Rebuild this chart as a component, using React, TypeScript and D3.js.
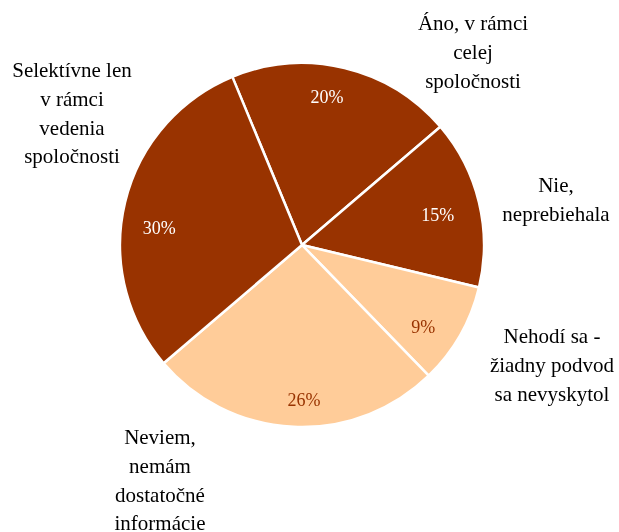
import React from "react";
import * as d3 from "d3";

const categories = [
  "Áno, v rámci celej spoločnosti",
  "Nie, neprebiehala",
  "Nehodí sa - žiadny podvod sa nevyskytol",
  "Neviem, nemám dostatočné informácie",
  "Selektívne len v rámci vedenia spoločnosti",
];
const values = [20, 15, 9, 26, 30];
const percentLabels = ["20%", "15%", "9%", "26%", "30%"];
const categoryLines = [
  ["Áno, v rámci", "celej", "spoločnosti"],
  ["Nie,", "neprebiehala"],
  ["Nehodí sa -", "žiadny podvod", "sa nevyskytol"],
  ["Neviem,", "nemám", "dostatočné", "informácie"],
  ["Selektívne len", "v rámci", "vedenia", "spoločnosti"],
];

// layout / style (kept apart from data)
const W = 619;
const H = 532;
const CX = 302;
const CY = 245;
const R = 182;
const START_DEG = -22.5;
const DARK = "#993300";
const LIGHT = "#FFCC99";
const sliceColors = [DARK, DARK, LIGHT, LIGHT, DARK];
const pctColors = ["#ffffff", "#ffffff", DARK, DARK, "#ffffff"];
const pctNudge = [
  [-10, -2.5],
  [-10, 5],
  [-9, 8],
  [9, 5],
  [3, 18],
];
// outer label anchor: center x, first baseline y
const outerPos = [
  [473, 30],
  [556, 192],
  [552, 343],
  [160, 444],
  [72, 77],
];
const LINE_H = 28.8;

export default function App() {
  const arcs = d3
    .pie<number>()
    .sort(null)
    .value((d) => d)
    .startAngle((START_DEG * Math.PI) / 180)
    .endAngle(((START_DEG + 360) * Math.PI) / 180)(values);
  const arc = d3.arc<d3.PieArcDatum<number>>().innerRadius(0).outerRadius(R);
  const labelArc = d3
    .arc<d3.PieArcDatum<number>>()
    .innerRadius(150)
    .outerRadius(150);

  return (
    <svg width={W} height={H} style={{ position: "fixed", left: 0, top: 0 }}>
      <g transform={`translate(${CX},${CY})`}>
        {arcs.map((a, i) => (
          <path
            key={categories[i]}
            d={arc(a) || ""}
            fill={sliceColors[i]}
            stroke="#ffffff"
            strokeWidth={2.5}
            strokeLinejoin="round"
          />
        ))}
        {arcs.map((a, i) => {
          const [x, y] = labelArc.centroid(a);
          return (
            <text
              key={"p" + i}
              x={x + pctNudge[i][0]}
              y={y + pctNudge[i][1] + 6}
              fontSize={18}
              textAnchor="middle"
              fill={pctColors[i]}
              style={{ fontFamily: "Liberation Serif" }}
            >
              {percentLabels[i]}
            </text>
          );
        })}
      </g>
      {categoryLines.map((lines, i) =>
        lines.map((ln, j) => (
          <text
            key={"c" + i + "-" + j}
            x={outerPos[i][0]}
            y={outerPos[i][1] + j * LINE_H}
            fontSize={21}
            textAnchor="middle"
            fill="#000"
            style={{ fontFamily: "Liberation Serif" }}
          >
            {ln}
          </text>
        ))
      )}
    </svg>
  );
}
